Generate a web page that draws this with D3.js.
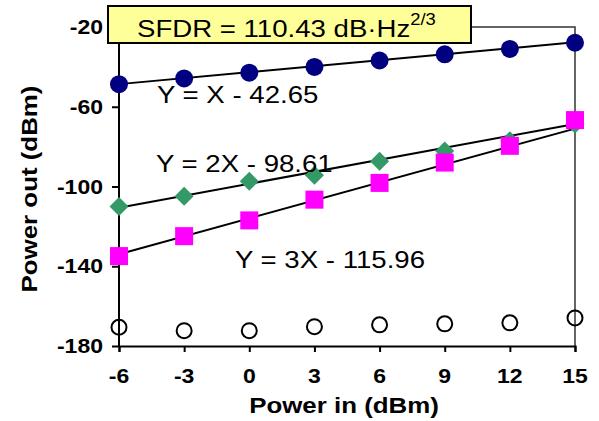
<!DOCTYPE html>
<html><head><meta charset="utf-8">
<script src="https://cdn.jsdelivr.net/npm/d3@7"></script>
<style>body{margin:0;background:#fff}</style>
</head><body><svg id="c" width="599" height="421"></svg>
<script>
const powerIn = [-6, -3, 0, 3, 6, 9, 12, 15];
const fundamental = [-48.7, -45.8, -42.9, -40.0, -36.8, -33.7, -31.0, -27.9];
const imd2 = [-110.0, -104.9, -97.4, -94.4, -87.3, -82.2, -77.1, -68.7];
const imd3 = [-134.9, -124.9, -117.0, -106.6, -98.2, -88.0, -79.6, -66.7];
const noiseFloor = [-170.6, -172.3, -172.3, -170.3, -169.4, -168.9, -168.4, -165.9];
const fitSlopes = [1, 2, 3];
const fitIntercepts = [-42.65, -98.61, -115.96];
const fitLabels = ["Y = X - 42.65", "Y = 2X - 98.61", "Y = 3X - 115.96"];
const xTicks = [-6, -3, 0, 3, 6, 9, 12, 15];
const yTicks = [-180, -140, -100, -60, -20];

const svg = d3.select("#c");
const FONT = "'Liberation Sans', Arial, sans-serif";
const SX = 1.15;
const x = d3.scaleLinear().domain([-6, 15]).range([119, 575]);
const y = d3.scaleLinear().domain([-180, -20]).range([346, 27]);

function txt(px, py, s, size, weight, anchor, rot) {
  return svg.append("text")
    .attr("transform", `translate(${px},${py}) rotate(${rot||0}) scale(${SX},1)`)
    .attr("font-family", FONT).attr("font-size", size).attr("font-weight", weight || "normal")
    .attr("text-anchor", anchor || "start").attr("fill", "#000").text(s);
}

// plot frame (top & right)
svg.append("path").attr("d", `M${x(-6)},${y(-20)}H${x(15)}V${y(-180)}`)
  .attr("fill", "none").attr("stroke", "#333").attr("stroke-width", 1.5);

// axes
const xAxis = d3.axisBottom(x).tickValues(xTicks).tickSize(6).tickFormat("");
const gx = svg.append("g").attr("transform", `translate(0,${y(-180)})`).call(xAxis);
const yAxis = d3.axisLeft(y).tickValues(yTicks).tickSize(7).tickFormat("");
const gy = svg.append("g").attr("transform", `translate(${x(-6)},0)`).call(yAxis);
[gx, gy].forEach(g => {
  g.select(".domain").attr("stroke", "#000").attr("stroke-width", 2);
  g.selectAll(".tick line").attr("stroke", "#000").attr("stroke-width", 2);
});
gy.select(".domain").attr("d", `M0,${y(-20)}V${y(-180)}`);
xTicks.forEach(t => txt(x(t), 383, String(t), 20, "bold", "middle"));
yTicks.forEach(t => txt(103, y(t) + 7, String(t), 20, "bold", "end"));

// axis titles
txt(344, 413, "Power in (dBm)", 22.5, "bold", "middle");
txt(37, 189, "Power out (dBm)", 22.5, "bold", "middle", -90);

// fit lines
fitSlopes.forEach((m, i) => {
  const b = fitIntercepts[i];
  svg.append("line").attr("x1", x(-6)).attr("y1", y(m * -6 + b))
    .attr("x2", x(15)).attr("y2", y(m * 15 + b))
    .attr("stroke", "#000").attr("stroke-width", 2);
});

// markers
const pts = arr => powerIn.map((p, i) => [p, arr[i]]);
svg.append("g").selectAll("circle").data(pts(fundamental)).join("circle")
  .attr("cx", d => x(d[0])).attr("cy", d => y(d[1])).attr("r", 9).attr("fill", "#000080");
svg.append("g").selectAll("path").data(pts(imd2)).join("path")
  .attr("transform", d => `translate(${x(d[0])},${y(d[1])})`)
  .attr("d", "M0,-9.5L9.5,0L0,9.5L-9.5,0Z").attr("fill", "#339966");
svg.append("g").selectAll("rect").data(pts(imd3)).join("rect")
  .attr("x", d => x(d[0]) - 9).attr("y", d => y(d[1]) - 9).attr("width", 18).attr("height", 18)
  .attr("fill", "#ff00ff");
svg.append("g").selectAll("circle").data(pts(noiseFloor)).join("circle")
  .attr("cx", d => x(d[0])).attr("cy", d => y(d[1])).attr("r", 7.5)
  .attr("fill", "none").attr("stroke", "#000").attr("stroke-width", 2);

// equation labels
const labelPos = [[157, 103], [156, 172], [235, 268]];
fitLabels.forEach((s, i) => txt(labelPos[i][0], labelPos[i][1], s, 24, "normal", "start"));

// SFDR box
svg.append("rect").attr("x", 108).attr("y", 6).attr("width", 363).attr("height", 37)
  .attr("fill", "#ffff99").attr("stroke", "#000").attr("stroke-width", 2);
const t = txt(137, 37, "SFDR = 110.43 dB·Hz", 24, "normal", "start");
t.append("tspan").attr("font-size", 16).attr("dy", -12).text("2/3");
</script></body></html>
